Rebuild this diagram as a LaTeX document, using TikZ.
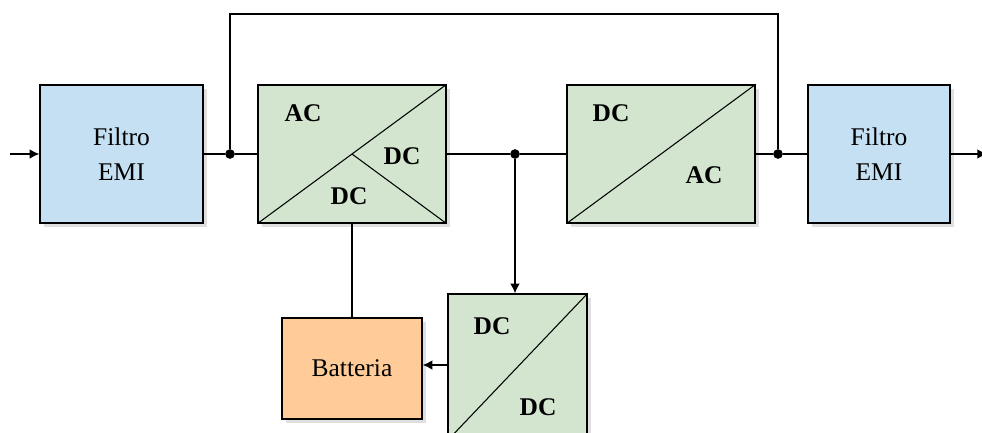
\documentclass[tikz,border=0pt]{standalone}
\usepackage{fontspec}
\setmainfont{Liberation Serif}
\usepackage{xcolor}
\usetikzlibrary{arrows.meta}
\usetikzlibrary{shadows, positioning}

\definecolor{bluFiltro}{RGB}{197,224,242}
\definecolor{verdeConv}{RGB}{211,229,207}
\definecolor{aranBatt}{RGB}{255,204,153}

\tikzset{
  blocco/.style={draw, line width=0.8pt, inner sep=0pt, align=center,
    font=\fontsize{14.5}{20}\selectfont,
    drop shadow={opacity=0.25, shadow xshift=2.2pt, shadow yshift=-2.2pt}},
  filtro/.style={blocco, fill=bluFiltro, minimum height=2.76cm},
  conv/.style={blocco, fill=verdeConv, minimum width=3.76cm, minimum height=2.76cm},
  etich/.style={font=\fontsize{14.5}{17}\selectfont\bfseries, inner sep=0pt},
  linea/.style={line width=0.8pt},
  freccia/.style={linea, -{Latex[length=5.5pt, width=5.5pt]}},
  nodo/.style={circle, fill, inner sep=0pt, minimum size=5.5pt}
}

\begin{document}
\begin{tikzpicture}[x=0.02cm, y=-0.02cm]
  \useasboundingbox (0,0) rectangle (982,432);
  \clip (0,0) rectangle (982,432);

  % blocchi
  \node[filtro, minimum width=3.26cm] (emiIn) at (121.5,154) {Filtro\\EMI};
  \node[conv] (acdc) at (352,154) {};
  \node[conv] (dcac) at (661,154) {};
  \node[filtro, minimum width=2.84cm] (emiOut) at (879,154) {Filtro\\EMI};
  \node[conv, minimum width=2.78cm, minimum height=2.92cm] (dcdc) at (517.5,367) {};
  \node[blocco, fill=aranBatt, minimum width=2.8cm, minimum height=2.02cm] (batt) at (352,368.5) {Batteria};

  % diagonali
  \draw[line width=0.6pt] (acdc.south west) -- (acdc.north east);
  \draw[line width=0.6pt] (acdc.center) -- (acdc.south east);
  \draw[line width=0.6pt] (dcac.south west) -- (dcac.north east);
  \draw[line width=0.6pt] (dcdc.south west) -- (dcdc.north east);

  % etichette
  \node[etich] (acIn) at (303,113) {AC};
  \node[etich] (dcOut1) at (402,156) {DC};
  \node[etich] (dcOut2) at (349,196) {DC};
  \node[etich] (dcIn) at (611,113) {DC};
  \node[etich] (acOut) at (704,175) {AC};
  \node[etich] (dcBus) at (492,326) {DC};
  \node[etich] (dcBatt) at (538,407) {DC};

  % nodi di giunzione
  \node[nodo] (j1) at (230,154) {};
  \node[nodo] (j2) at (515,154) {};
  \node[nodo] (j3) at (778,154) {};
  \coordinate (ingresso) at (10,154);
  \coordinate (uscita) at (987,154);
  \coordinate (altoSx) at (230,14);
  \coordinate (altoDx) at (778,14);

  % collegamenti
  \draw[freccia] (ingresso) -- (emiIn.west);
  \draw[linea] (emiIn.east) -- (j1) -- (acdc.west);
  \draw[linea] (acdc.east) -- (j2) -- (dcac.west);
  \draw[linea] (dcac.east) -- (j3) -- (emiOut.west);
  \draw[freccia] (emiOut.east) -- (uscita);
  \draw[linea] (j1) -- (altoSx) -- (altoDx) -- (j3);
  \draw[freccia] (j2) -- (j2 |- dcdc.north);
  \draw[linea] (acdc.south) -- (acdc.south |- batt.north);
  \draw[freccia] (dcdc.west |- 0,365) -- (batt.east |- 0,365);
\end{tikzpicture}
\end{document}
